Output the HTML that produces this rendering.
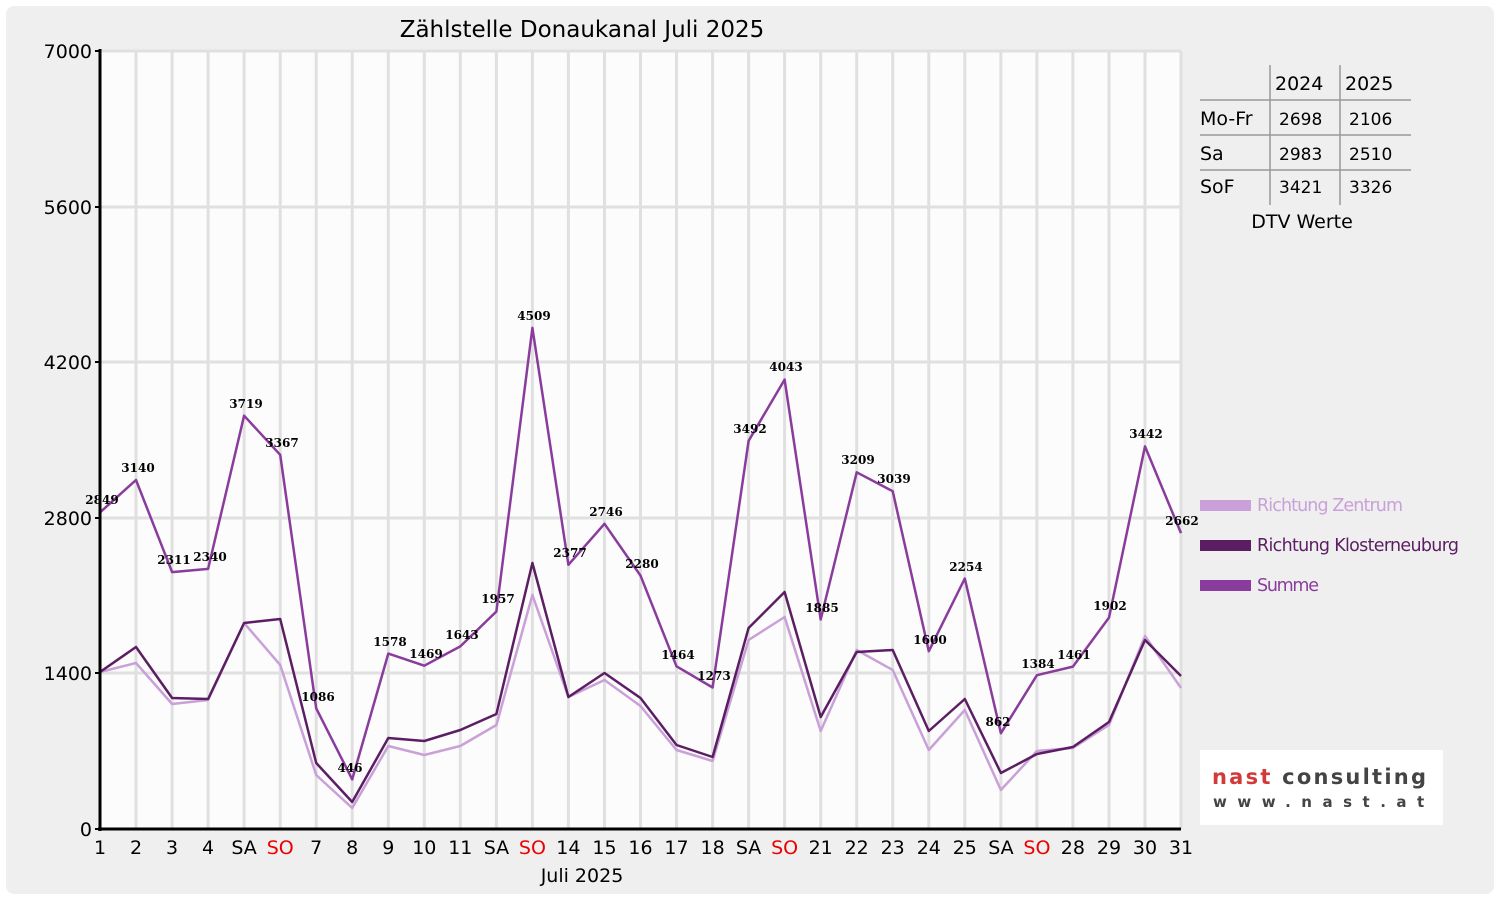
<!DOCTYPE html>
<html><head><meta charset="utf-8"><style>
html,body{margin:0;padding:0;background:#fff;}
svg{display:block;font-family:"DejaVu Sans","Liberation Sans",sans-serif;}
.lb{font-family:"DejaVu Serif","Liberation Serif",serif;font-weight:bold;font-size:12px;text-anchor:middle;fill:#000;}
.xt{font-size:19px;text-anchor:middle;}
.yt{font-size:19px;text-anchor:end;}
</style></head><body>
<svg width="1500" height="900" viewBox="0 0 1500 900">
<rect x="0" y="0" width="1500" height="900" fill="#fff"/>
<rect x="6" y="6" width="1488" height="888" rx="8" fill="#efefef"/>
<rect x="100" y="51" width="1081" height="778" fill="#fcfcfc"/>
<g stroke="#e0e0e0" stroke-width="3">
<line x1="100" y1="51" x2="1181" y2="51"/><line x1="100" y1="207" x2="1181" y2="207"/><line x1="100" y1="362" x2="1181" y2="362"/><line x1="100" y1="518" x2="1181" y2="518"/><line x1="100" y1="673" x2="1181" y2="673"/>
<line x1="136" y1="51" x2="136" y2="829"/><line x1="172.1" y1="51" x2="172.1" y2="829"/><line x1="208.1" y1="51" x2="208.1" y2="829"/><line x1="244.1" y1="51" x2="244.1" y2="829"/><line x1="280.2" y1="51" x2="280.2" y2="829"/><line x1="316.2" y1="51" x2="316.2" y2="829"/><line x1="352.2" y1="51" x2="352.2" y2="829"/><line x1="388.3" y1="51" x2="388.3" y2="829"/><line x1="424.3" y1="51" x2="424.3" y2="829"/><line x1="460.3" y1="51" x2="460.3" y2="829"/><line x1="496.4" y1="51" x2="496.4" y2="829"/><line x1="532.4" y1="51" x2="532.4" y2="829"/><line x1="568.4" y1="51" x2="568.4" y2="829"/><line x1="604.5" y1="51" x2="604.5" y2="829"/><line x1="640.5" y1="51" x2="640.5" y2="829"/><line x1="676.5" y1="51" x2="676.5" y2="829"/><line x1="712.6" y1="51" x2="712.6" y2="829"/><line x1="748.6" y1="51" x2="748.6" y2="829"/><line x1="784.6" y1="51" x2="784.6" y2="829"/><line x1="820.7" y1="51" x2="820.7" y2="829"/><line x1="856.7" y1="51" x2="856.7" y2="829"/><line x1="892.7" y1="51" x2="892.7" y2="829"/><line x1="928.8" y1="51" x2="928.8" y2="829"/><line x1="964.8" y1="51" x2="964.8" y2="829"/><line x1="1000.9" y1="51" x2="1000.9" y2="829"/><line x1="1036.9" y1="51" x2="1036.9" y2="829"/><line x1="1072.9" y1="51" x2="1072.9" y2="829"/><line x1="1109" y1="51" x2="1109" y2="829"/><line x1="1145" y1="51" x2="1145" y2="829"/><line x1="1181" y1="51" x2="1181" y2="829"/>
</g>
<g fill="none" stroke-width="2.5" stroke-linejoin="round">
<polyline stroke="#c9a0d8" points="100,672 136,663 172.1,704 208.1,700 244.1,623 280.2,665 316.2,775 352.2,808 388.3,746 424.3,755 460.3,746 496.4,725 532.4,595 568.4,697 604.5,680 640.5,706 676.5,750 712.6,761 748.6,640 784.6,617 820.7,731 856.7,650 892.7,670 928.8,750 964.8,710 1000.9,790 1036.9,751 1072.9,748 1109,725 1145,636 1181,688"/>
<polyline stroke="#5c1e63" points="100,672 136,647 172.1,698 208.1,699 244.1,623 280.2,619 316.2,763 352.2,802 388.3,738 424.3,741 460.3,730 496.4,714 532.4,563 568.4,697 604.5,673 640.5,698 676.5,745 712.6,757 748.6,628 784.6,592 820.7,717 856.7,652 892.7,650 928.8,731 964.8,699 1000.9,773 1036.9,754 1072.9,747 1109,722 1145,640 1181,676"/>
<polyline stroke="#8a3c9c" points="100,512.4 136,480 172.1,572.1 208.1,568.9 244.1,415.7 280.2,454.8 316.2,708.3 352.2,779.4 388.3,653.6 424.3,665.7 460.3,646.4 496.4,611.5 532.4,327.9 568.4,564.8 604.5,523.8 640.5,575.6 676.5,666.3 712.6,687.5 748.6,440.9 784.6,379.6 820.7,619.5 856.7,472.3 892.7,491.2 928.8,651.2 964.8,578.5 1000.9,733.2 1036.9,675.2 1072.9,666.6 1109,617.6 1145,446.4 1181,533.1"/>
</g>
<g class="lb">
<text x="102" y="504">2849</text><text x="138" y="472">3140</text><text x="174" y="564">2311</text><text x="210" y="561">2340</text><text x="246" y="408">3719</text><text x="282" y="447">3367</text><text x="318" y="701">1086</text><text x="350" y="772">446</text><text x="390" y="646">1578</text><text x="426" y="658">1469</text><text x="462" y="639">1643</text><text x="498" y="603">1957</text><text x="534" y="320">4509</text><text x="570" y="557">2377</text><text x="606" y="516">2746</text><text x="642" y="568">2280</text><text x="678" y="659">1464</text><text x="714" y="680">1273</text><text x="750" y="433">3492</text><text x="786" y="371">4043</text><text x="822" y="612">1885</text><text x="858" y="464">3209</text><text x="894" y="483">3039</text><text x="930" y="644">1600</text><text x="966" y="571">2254</text><text x="998" y="726">862</text><text x="1038" y="668">1384</text><text x="1074" y="659">1461</text><text x="1110" y="610">1902</text><text x="1146" y="438">3442</text><text x="1182" y="525">2662</text>
</g>
<g stroke="#000" stroke-width="3"><line x1="100" y1="49" x2="100" y2="831"/><line x1="98" y1="829" x2="1181" y2="829"/></g>
<g stroke="#000" stroke-width="2"><line x1="95" y1="51" x2="100" y2="51"/><line x1="95" y1="207" x2="100" y2="207"/><line x1="95" y1="362" x2="100" y2="362"/><line x1="95" y1="518" x2="100" y2="518"/><line x1="95" y1="673" x2="100" y2="673"/><line x1="95" y1="829" x2="100" y2="829"/></g>
<g class="yt"><text x="92" y="58">7000</text><text x="92" y="214">5600</text><text x="92" y="369">4200</text><text x="92" y="525">2800</text><text x="92" y="680">1400</text><text x="92" y="836">0</text></g>
<g class="xt">
<text x="100" y="854">1</text><text x="136" y="854">2</text><text x="172.1" y="854">3</text><text x="208.1" y="854">4</text><text x="244.1" y="854">SA</text><text x="280.2" y="854" fill="#e00">SO</text><text x="316.2" y="854">7</text><text x="352.2" y="854">8</text><text x="388.3" y="854">9</text><text x="424.3" y="854">10</text><text x="460.3" y="854">11</text><text x="496.4" y="854">SA</text><text x="532.4" y="854" fill="#e00">SO</text><text x="568.4" y="854">14</text><text x="604.5" y="854">15</text><text x="640.5" y="854">16</text><text x="676.5" y="854">17</text><text x="712.6" y="854">18</text><text x="748.6" y="854">SA</text><text x="784.6" y="854" fill="#e00">SO</text><text x="820.7" y="854">21</text><text x="856.7" y="854">22</text><text x="892.7" y="854">23</text><text x="928.8" y="854">24</text><text x="964.8" y="854">25</text><text x="1000.9" y="854">SA</text><text x="1036.9" y="854" fill="#e00">SO</text><text x="1072.9" y="854">28</text><text x="1109" y="854">29</text><text x="1145" y="854">30</text><text x="1181" y="854">31</text>
<text x="582" y="882">Juli 2025</text>
</g>
<text x="582" y="37" font-size="23" text-anchor="middle">Zählstelle Donaukanal Juli 2025</text>
<g stroke="#999" stroke-width="1.5"><line x1="1270" y1="65" x2="1270" y2="205"/><line x1="1340" y1="65" x2="1340" y2="205"/><line x1="1200" y1="100" x2="1411" y2="100"/><line x1="1200" y1="135" x2="1411" y2="135"/><line x1="1200" y1="170" x2="1411" y2="170"/></g>
<g font-size="19"><text x="1275" y="90">2024</text><text x="1345" y="90">2025</text>
<text x="1200" y="125">Mo-Fr</text><text x="1200" y="160">Sa</text><text x="1200" y="193">SoF</text>
<text x="1279" y="125" font-size="17">2698</text><text x="1349" y="125" font-size="17">2106</text>
<text x="1279" y="160" font-size="17">2983</text><text x="1349" y="160" font-size="17">2510</text>
<text x="1279" y="193" font-size="17">3421</text><text x="1349" y="193" font-size="17">3326</text>
<text x="1302" y="228" text-anchor="middle">DTV Werte</text></g>
<rect x="1200" y="500" width="51" height="11" fill="#c9a0d8"/><text x="1257" y="511" font-size="17.5" fill="#c9a0d8" textLength="146">Richtung Zentrum</text>
<rect x="1200" y="540" width="51" height="11" fill="#5c1e63"/><text x="1257" y="551" font-size="17.5" fill="#5c1e63" textLength="202">Richtung Klosterneuburg</text>
<rect x="1200" y="580" width="51" height="11" fill="#8a3c9c"/><text x="1257" y="591" font-size="17.5" fill="#8a3c9c" textLength="62">Summe</text>
<rect x="1200" y="750" width="243" height="75" fill="#fff"/>
<text x="1212" y="784" font-size="21" font-weight="bold" fill="#d23a3a" textLength="214">nast <tspan fill="#444">consulting</tspan></text>
<text x="1213" y="807" font-size="15" font-weight="bold" fill="#444" letter-spacing="10.5">www.nast.at</text>
</svg>
</body></html>
